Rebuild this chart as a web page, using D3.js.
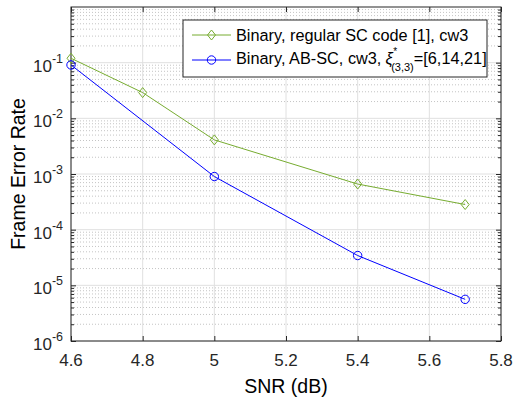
<!DOCTYPE html>
<html>
<head>
<meta charset="utf-8">
<script src="https://cdn.jsdelivr.net/npm/d3@7"></script>
<style>
  body { margin: 0; background: #fff; }
  svg { font-family: "Liberation Sans", Arial, sans-serif; }
</style>
</head>
<body>
<div id="chart"></div>
<script>
// data
var snrRegular = [4.6, 4.8, 5.0, 5.4, 5.7];
var ferRegular = [0.12, 0.029, 0.0041, 6.6e-4, 2.83e-4];
var snrAB = [4.6, 5.0, 5.4, 5.7];
var ferAB = [0.091, 9.0e-4, 3.43e-5, 5.6e-6];
var xTicks = [4.6, 4.8, 5.0, 5.2, 5.4, 5.6, 5.8];
var yExps = [-6, -5, -4, -3, -2, -1];

var svgWidth = 514;
var svgHeight = 400;
var margin = { top: 7, right: 13, bottom: 59, left: 71 };
var width = svgWidth - margin.left - margin.right;
var height = svgHeight - margin.top - margin.bottom;

var green = "#77AC30";
var blue = "#0000FF";
var axisColor = "#262626";

var svg = d3.select("#chart").append("svg")
  .attr("width", svgWidth)
  .attr("height", svgHeight);

var g = svg.append("g")
  .attr("transform", "translate(" + margin.left + "," + margin.top + ")");

var x = d3.scaleLinear().domain([4.6, 5.8]).range([0, width]);
var y = d3.scaleLog().domain([1e-6, 1]).range([height, 0]);

// minor values on log axis
var minorVals = [];
for (var e = -6; e < 0; e++) {
  for (var m = 2; m <= 9; m++) minorVals.push(m * Math.pow(10, e));
}
var majorVals = yExps.map(function(p) { return Math.pow(10, p); });

// grid: minor dotted
g.append("g").selectAll("line").data(minorVals).enter().append("line")
  .attr("x1", 0).attr("x2", width)
  .attr("y1", function(d) { return y(d); }).attr("y2", function(d) { return y(d); })
  .attr("stroke", "#c4c4c4").attr("stroke-width", 1)
  .attr("stroke-dasharray", "1,2");

// major grid
g.append("g").selectAll("line").data(majorVals).enter().append("line")
  .attr("x1", 0).attr("x2", width)
  .attr("y1", function(d) { return y(d); }).attr("y2", function(d) { return y(d); })
  .attr("stroke", "#e0e0e0").attr("stroke-width", 1);
g.append("g").selectAll("line").data(xTicks).enter().append("line")
  .attr("y1", 0).attr("y2", height)
  .attr("x1", function(d) { return x(d); }).attr("x2", function(d) { return x(d); })
  .attr("stroke", "#e0e0e0").attr("stroke-width", 1);

// axes box
g.append("rect").attr("width", width).attr("height", height)
  .attr("fill", "none").attr("stroke", axisColor).attr("stroke-width", 1);

// ticks, pointing inwards
var xAxisB = d3.axisBottom(x).tickValues(xTicks).tickSize(-5).tickFormat("");
var xAxisT = d3.axisTop(x).tickValues(xTicks).tickSize(-5).tickFormat("");
var yAxisL = d3.axisLeft(y).tickValues(majorVals).tickSize(-5).tickFormat("");
var yAxisR = d3.axisRight(y).tickValues(majorVals).tickSize(-5).tickFormat("");
var yMinL = d3.axisLeft(y).tickValues(minorVals).tickSize(-3).tickFormat("");
var yMinR = d3.axisRight(y).tickValues(minorVals).tickSize(-3).tickFormat("");

[[xAxisB, "translate(0," + height + ")"], [xAxisT, null],
 [yAxisL, null], [yAxisR, "translate(" + width + ",0)"],
 [yMinL, null], [yMinR, "translate(" + width + ",0)"]].forEach(function(a) {
  var ax = g.append("g").call(a[0]);
  if (a[1]) ax.attr("transform", a[1]);
  ax.select(".domain").remove();
  ax.selectAll("line").attr("stroke", axisColor);
});

// tick labels
g.append("g").selectAll("text").data(xTicks).enter().append("text")
  .attr("x", function(d) { return x(d); })
  .attr("y", height + 25)
  .attr("text-anchor", "middle")
  .attr("font-size", 17)
  .attr("fill", axisColor)
  .text(function(d) { return d === 5 ? "5" : d3.format(".1f")(d); });

var yl = g.append("g").selectAll("text").data(yExps).enter().append("text")
  .attr("x", -8)
  .attr("y", function(d) { return y(Math.pow(10, d)) + 9; })
  .attr("text-anchor", "end")
  .attr("font-size", 17)
  .attr("fill", axisColor);
yl.append("tspan").text("10");
yl.append("tspan").attr("dy", -9).attr("font-size", 12.5)
  .text(function(d) { return "-" + Math.abs(d); });

// axis labels
g.append("text")
  .attr("x", width / 2).attr("y", height + 52)
  .attr("text-anchor", "middle").attr("font-size", 19.5)
  .attr("fill", "#000").text("SNR (dB)");
g.append("text")
  .attr("transform", "translate(" + (-46) + "," + (height / 2) + ") rotate(-90)")
  .attr("text-anchor", "middle").attr("font-size", 19.5)
  .attr("fill", "#000").text("Frame Error Rate");

// series
var line = d3.line()
  .x(function(d) { return x(d[0]); })
  .y(function(d) { return y(d[1]); });

var regData = d3.zip(snrRegular, ferRegular);
var abData = d3.zip(snrAB, ferAB);

function diamond(sel, cx, cy) {
  var r = 5;
  sel.append("path")
    .attr("d", "M" + cx + "," + (cy - r) + "L" + (cx + r * 0.8) + "," + cy +
      "L" + cx + "," + (cy + r) + "L" + (cx - r * 0.8) + "," + cy + "Z")
    .attr("fill", "none").attr("stroke", green).attr("stroke-width", 1);
}
function circle(sel, cx, cy) {
  sel.append("circle").attr("cx", cx).attr("cy", cy).attr("r", 4.2)
    .attr("fill", "none").attr("stroke", blue).attr("stroke-width", 1);
}

g.append("path").datum(regData).attr("d", line)
  .attr("fill", "none").attr("stroke", green).attr("stroke-width", 1);
g.append("path").datum(abData).attr("d", line)
  .attr("fill", "none").attr("stroke", blue).attr("stroke-width", 1);

var mk = g.append("g");
regData.forEach(function(d) { diamond(mk, x(d[0]), y(d[1])); });
abData.forEach(function(d) { circle(mk, x(d[0]), y(d[1])); });

// legend
var leg = svg.append("g").attr("transform", "translate(183,20)");
leg.append("rect").attr("width", 304).attr("height", 57)
  .attr("fill", "#fff").attr("stroke", axisColor).attr("stroke-width", 1);

leg.append("line").attr("x1", 9).attr("x2", 48).attr("y1", 15).attr("y2", 15)
  .attr("stroke", green);
diamond(leg, 28.5, 15);
leg.append("text").attr("x", 53).attr("y", 21).attr("font-size", 16.3)
  .attr("fill", "#000").text("Binary, regular SC code [1], cw3");

leg.append("line").attr("x1", 9).attr("x2", 48).attr("y1", 40).attr("y2", 40)
  .attr("stroke", blue);
circle(leg, 28.5, 40);

// second entry built piece by piece (xi with super- and subscript)
var bx = 53, by = 44;
var p1 = leg.append("text").attr("x", bx).attr("y", by).attr("font-size", 16.3)
  .attr("fill", "#000").text("Binary, AB-SC, cw3,");
bx += p1.node().getComputedTextLength() + 4;
var xi = leg.append("text").attr("x", bx).attr("y", by).attr("font-size", 16.3)
  .attr("font-style", "italic").attr("fill", "#000").text("\u03BE");
var xiW = xi.node().getComputedTextLength();
leg.append("text").attr("x", bx + xiW + 0.5).attr("y", by - 9).attr("font-size", 10)
  .attr("fill", "#000").text("*");
var sub = leg.append("text").attr("x", bx + xiW - 1.5).attr("y", by + 7)
  .attr("font-size", 11).attr("fill", "#000").text("(3,3)");
bx += xiW - 1.5 + sub.node().getComputedTextLength();
leg.append("text").attr("x", bx).attr("y", by).attr("font-size", 16.3)
  .attr("fill", "#000").text("=[6,14,21]");
</script>
</body>
</html>
